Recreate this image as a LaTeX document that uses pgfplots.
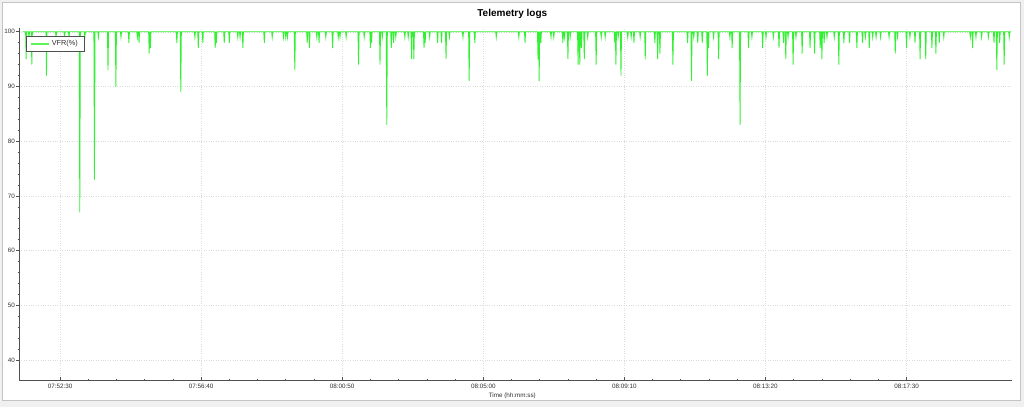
\documentclass[border=0pt]{standalone}
\usepackage{fontspec}
\setmainfont{Liberation Sans}
\usepackage{pgfplots}
\pgfplotsset{compat=1.18}
\definecolor{bgcol}{HTML}{F0F0F0}
\definecolor{panelborder}{HTML}{C4C4C4}
\definecolor{axisgray}{HTML}{505050}
\definecolor{gridgray}{HTML}{DCDCDC}
\definecolor{txtgray}{HTML}{303030}
\definecolor{vfr}{RGB}{50,240,50}
\begin{document}
\begin{tikzpicture}
\useasboundingbox (0pt,0pt) rectangle (1024pt,407pt);
\fill[bgcol] (0pt,0pt) rectangle (1024pt,407pt);
\draw[panelborder, fill=white, line width=0.8pt] (2.5pt,7pt) rectangle (1020.5pt,404.5pt);
\begin{axis}[
  at={(19pt,26.8pt)}, anchor=south west,
  scale only axis,
  width=992.5pt, height=351.9pt,
  xmin=-72.7, xmax=1686,
  ymin=36.34, ymax=100.64,
  axis x line*=bottom, axis y line*=left,
  axis line style={-, draw=axisgray, line width=0.8pt},
  xtick={0,250,500,750,1000,1250,1500},
  xticklabels={07:52:30,07:56:40,08:00:50,08:05:00,08:09:10,08:13:20,08:17:30},
  ytick={40,50,60,70,80,90,100},
  minor x tick num=4, minor y tick num=4,
  xtick align=inside, ytick align=outside,
  major tick length=3pt, minor tick length=1.5pt,
  tick style={draw=axisgray, line width=0.7pt},
  grid=major,
  major grid style={dotted, draw=gridgray, line width=0.6pt},
  /pgf/number format/assume math mode=true,
  ticklabel style={font=\fontsize{6.3}{7}\selectfont, text=txtgray},
  xticklabel style={anchor=center, yshift=-6.2pt},
  yticklabel style={anchor=east, inner sep=0pt, xshift=-1pt},
  title={Telemetry logs},
  title style={font=\fontsize{10}{12}\selectfont\bfseries, at={(0.497,1)}, anchor=center, yshift=8.3pt, inner sep=0pt},
  xlabel={Time (hh:mm:ss)},
  xlabel style={font=\fontsize{6.3}{7}\selectfont, text=txtgray, at={(0.497,0)}, anchor=center, yshift=-16pt, inner sep=0pt},
  legend style={at={(0,1)}, anchor=north west, xshift=6.7pt, yshift=-7.4pt,
    draw=axisgray, line width=0.7pt, fill=white,
    font=\fontsize{7.3}{8}\selectfont, text=txtgray,
    inner xsep=4.5pt, inner ysep=2.5pt},
  legend image code/.code={\draw[draw=vfr!80!white, line width=1.3pt] (0pt,0pt) -- (18pt,0pt);},
  clip=true,
]
\addplot[vfr, line width=0.85pt, mark=none] coordinates {
(-66,100)
(-61,100)(-60,95)(-59,100)
(-56,100)(-55,99)(-54,100)
(-51,100)(-50,94)(-49,100)
(-25,100)(-24,92)(-23,100)
(-8,100)(-7,99)(-6,100)
(7,100)(8,99)(9,100)
(15,100)(16,99)(17,100)
(34,100)(35,67)(36,100)
(43,100)(44,99)(45,100)
(60,100)(61,73)(62,100)
(67,100)(68,99)(69,100)
(84,100)(85,93)(86,100)
(98,100)(99,90)(100,100)
(107,100)(108,99)(109,100)
(121,100)(122,98)(123,100)
(136,100)(137,99)(138,100)
(139,100)(140,98)(141,100)
(157,100)(158,96)(159,100)(160,97)(161,100)
(206,100)(207,98)(208,100)
(213,100)(214,89)(215,100)
(238,100)(239,99)(240,100)
(244,100)(245,97)(246,100)
(252,100)(253,98)(254,100)
(274,100)(275,97)(276,100)(277,98)(278,100)
(290,100)(291,98)(292,100)
(299,100)(300,98)(301,100)
(314,100)(315,99)(316,100)
(318,100)(319,99)(320,100)
(323,100)(324,97)(325,100)
(361,100)(362,98)(363,100)
(375,100)(376,99)(377,100)
(395,100)(396,99)(397,100)
(399,100)(400,99)(401,100)
(402,100)(403,99)(404,100)
(415,100)(416,93)(417,100)
(437,100)(438,98)(439,100)
(441,100)(442,97)(443,100)
(454,100)(455,99)(456,100)
(458,100)(459,98)(460,100)
(470,100)(471,99)(472,100)
(482,100)(483,97)(484,100)
(492,100)(493,99)(494,100)
(495,100)(496,99)(497,100)
(506,100)(507,99)(508,100)
(528,100)(529,94)(530,100)
(538,100)(539,99)(540,100)
(549,100)(550,97)(551,100)(552,98)(553,100)
(566,100)(567,94)(568,100)
(570,100)(571,99)(572,100)
(578,100)(579,83)(580,100)
(586,100)(587,97)(588,100)
(590,100)(591,98)(592,100)
(594,100)(595,99)(596,100)
(610,100)(611,99)(612,100)
(616,100)(617,99)(618,100)
(622,100)(623,95)(624,100)
(626,100)(627,95)(628,100)
(644,100)(645,97)(646,100)(647,98)(648,100)
(654,100)(655,99)(656,100)
(668,100)(669,98)(670,100)
(675,100)(676,98)(677,100)
(683,100)(684,95)(685,100)
(689,100)(690,99)(691,100)
(713,100)(714,99)(715,100)
(724,100)(725,91)(726,100)
(734,100)(735,98)(736,100)
(772,100)(773,99)(774,100)
(812,100)(813,99)(814,100)
(823,100)(824,98)(825,100)
(846,100)(847,95)(848,100)(849,91)(850,100)
(851,100)(852,98)(853,100)
(869,100)(870,99)(871,100)
(874,100)(875,99)(876,100)
(890,100)(891,98)(892,100)
(893,100)(894,99)(895,100)
(899,100)(900,95)(901,100)
(903,100)(904,99)(905,100)
(917,100)(918,94)(919,100)
(920,100)(921,94)(922,100)
(923,100)(924,97)(925,100)
(928,100)(929,95)(930,100)
(934,100)(935,99)(936,100)
(949,100)(950,94)(951,100)
(958,100)(959,99)(960,100)
(965,100)(966,99)(967,100)
(982,100)(983,98)(984,100)(985,94)(986,100)
(988,100)(989,99)(990,100)
(993,100)(994,92)(995,100)
(1005,100)(1006,99)(1007,100)
(1011,100)(1012,99)(1013,100)
(1016,100)(1017,98)(1018,100)
(1027,100)(1028,99)(1029,100)
(1036,100)(1037,95)(1038,100)
(1053,100)(1054,98)(1055,100)
(1058,100)(1059,95)(1060,100)
(1062,100)(1063,96)(1064,100)
(1085,100)(1086,94)(1087,100)
(1111,100)(1112,98)(1113,100)
(1118,100)(1119,91)(1120,100)
(1122,100)(1123,99)(1124,100)
(1129,100)(1130,98)(1131,100)
(1137,100)(1138,98)(1139,100)
(1146,100)(1147,92)(1148,100)(1149,97)(1150,100)
(1157,100)(1158,99)(1159,100)
(1166,100)(1167,95)(1168,100)
(1186,100)(1187,99)(1188,100)
(1190,100)(1191,97)(1192,100)
(1204,100)(1205,83)(1206,100)
(1219,100)(1220,97)(1221,100)
(1225,100)(1226,99)(1227,100)
(1244,100)(1245,97)(1246,100)
(1250,100)(1251,99)(1252,100)
(1263,100)(1264,99)(1265,100)
(1273,100)(1274,97)(1275,100)
(1281,100)(1282,98)(1283,100)
(1285,100)(1286,95)(1287,100)
(1289,100)(1290,99)(1291,100)
(1298,100)(1299,94)(1300,100)
(1303,100)(1304,99)(1305,100)
(1314,100)(1315,96)(1316,100)
(1328,100)(1329,97)(1330,100)
(1336,100)(1337,96)(1338,100)
(1346,100)(1347,97)(1348,100)
(1349,100)(1350,95)(1351,100)
(1353,100)(1354,98)(1355,100)
(1358,100)(1359,99)(1360,100)
(1371,100)(1372,99)(1373,100)
(1379,100)(1380,94)(1381,100)
(1388,100)(1389,98)(1390,100)
(1398,100)(1399,98)(1400,100)
(1411,100)(1412,97)(1413,100)
(1421,100)(1422,98)(1423,100)
(1426,100)(1427,99)(1428,100)
(1433,100)(1434,97)(1435,100)
(1439,100)(1440,99)(1441,100)
(1445,100)(1446,99)(1447,100)
(1453,100)(1454,99)(1455,100)
(1468,100)(1469,99)(1470,100)
(1479,100)(1480,96)(1481,100)
(1483,100)(1484,99)(1485,100)
(1499,100)(1500,97)(1501,100)
(1505,100)(1506,99)(1507,100)
(1514,100)(1515,98)(1516,100)
(1523,100)(1524,95)(1525,100)
(1533,100)(1534,95)(1535,100)
(1544,100)(1545,97)(1546,100)
(1551,100)(1552,96)(1553,100)
(1557,100)(1558,98)(1559,100)
(1565,100)(1566,99)(1567,100)
(1612,100)(1613,99)(1614,100)
(1616,100)(1617,97)(1618,100)
(1622,100)(1623,99)(1624,100)
(1632,100)(1633,99)(1634,100)
(1644,100)(1645,99)(1646,100)
(1654,100)(1655,98)(1656,100)
(1659,100)(1660,93)(1661,100)
(1664,100)(1665,98)(1666,100)
(1672,100)(1673,94)(1674,100)
(1681,100)(1682,99)(1683,100)
(1685,100)
};
\addlegendentry{VFR(\%)}
\end{axis}
\end{tikzpicture}
\end{document}
